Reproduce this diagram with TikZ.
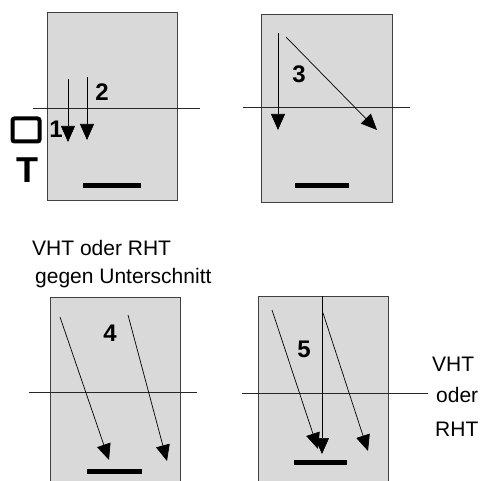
\documentclass[tikz,border=0pt]{standalone}
\usepackage{fontspec}
\setmainfont{Liberation Sans}
\usetikzlibrary{arrows.meta}

\tikzset{
  plate/.style={draw=black!75,fill=black!15,line width=0.9pt},
  cutline/.style={draw=black!85,line width=0.8pt},
  ray/.style={line width=0.7pt,-{Triangle[length=16pt,width=14pt]}},
  bar/.style={line width=5pt},
  num/.style={font=\fontsize{24}{26}\selectfont\bfseries},
  txt/.style={font=\fontsize{21}{24}\selectfont,inner sep=0pt}
}

\begin{document}
\begin{tikzpicture}[x=1pt,y=-1pt]
  \useasboundingbox (0,0) rectangle (487,481);
  \clip (0,0) rectangle (487,481);

  % Plates
  \draw[plate] (47,12) rectangle (177,200);
  \draw[plate] (261,14) rectangle (392,202);
  \draw[plate] (50,297) rectangle (180,500);
  \draw[plate] (258,296) rectangle (388,500);

  % Cut lines
  \draw[cutline] (33,108) -- (200,108);
  \draw[cutline] (243,107) -- (410,107);
  \draw[cutline] (29,392) -- (197,392);
  \draw[cutline] (242,393) -- (428,393);

  % Bars
  \draw[bar] (83,186) -- (141,186);
  \draw[bar] (295,186) -- (349,186);
  \draw[bar] (87,471) -- (142,471);
  \draw[bar] (294,462) -- (347,462);

  % Ray end points
  \coordinate (a1) at (68,79);   \coordinate (b1) at (68,142);
  \coordinate (a2) at (87,77);   \coordinate (b2) at (87,140);
  \coordinate (a3) at (278,33);  \coordinate (b3) at (278,130);
  \coordinate (a4) at (286,37);  \coordinate (b4) at (377,130);
  \coordinate (a5) at (60,317);  \coordinate (b5) at (109,460);
  \coordinate (a6) at (128,315); \coordinate (b6) at (167,461);
  \coordinate (a7) at (272,310); \coordinate (b7) at (318,449);
  \coordinate (a8) at (322,296); \coordinate (b8) at (322,454);
  \coordinate (a9) at (323,313); \coordinate (b9) at (368,451);

  % Rays
  \foreach \i in {1,...,9}
    \draw[ray] (a\i) -- (b\i);

  % Labels
  \node[num] (n1) at (56,129) {1};
  \node[num] (n2) at (102,92) {2};
  \node[num] (n3) at (299,74) {3};
  \node[num] (n4) at (110,333) {4};
  \node[num] (n5) at (304,349) {5};
  \node[draw,line width=4pt,rounded corners=2pt,minimum width=27pt,minimum height=23pt,inner sep=0pt] (sq) at (26,130) {};
  \node[font=\fontsize{36}{38}\selectfont\bfseries,inner sep=0pt] (T) at (27,170) {T};

  \node[txt,anchor=base west] (t1) at (32,255) {VHT oder RHT};
  \node[txt,anchor=base west] (t2) at (35,283) {gegen Unterschnitt};
  \node[txt,anchor=base west] (r1) at (432,371) {VHT};
  \node[txt,anchor=base west] (r2) at (436,402) {oder};
  \node[txt,anchor=base west] (r3) at (435,436) {RHT};
\end{tikzpicture}
\end{document}
